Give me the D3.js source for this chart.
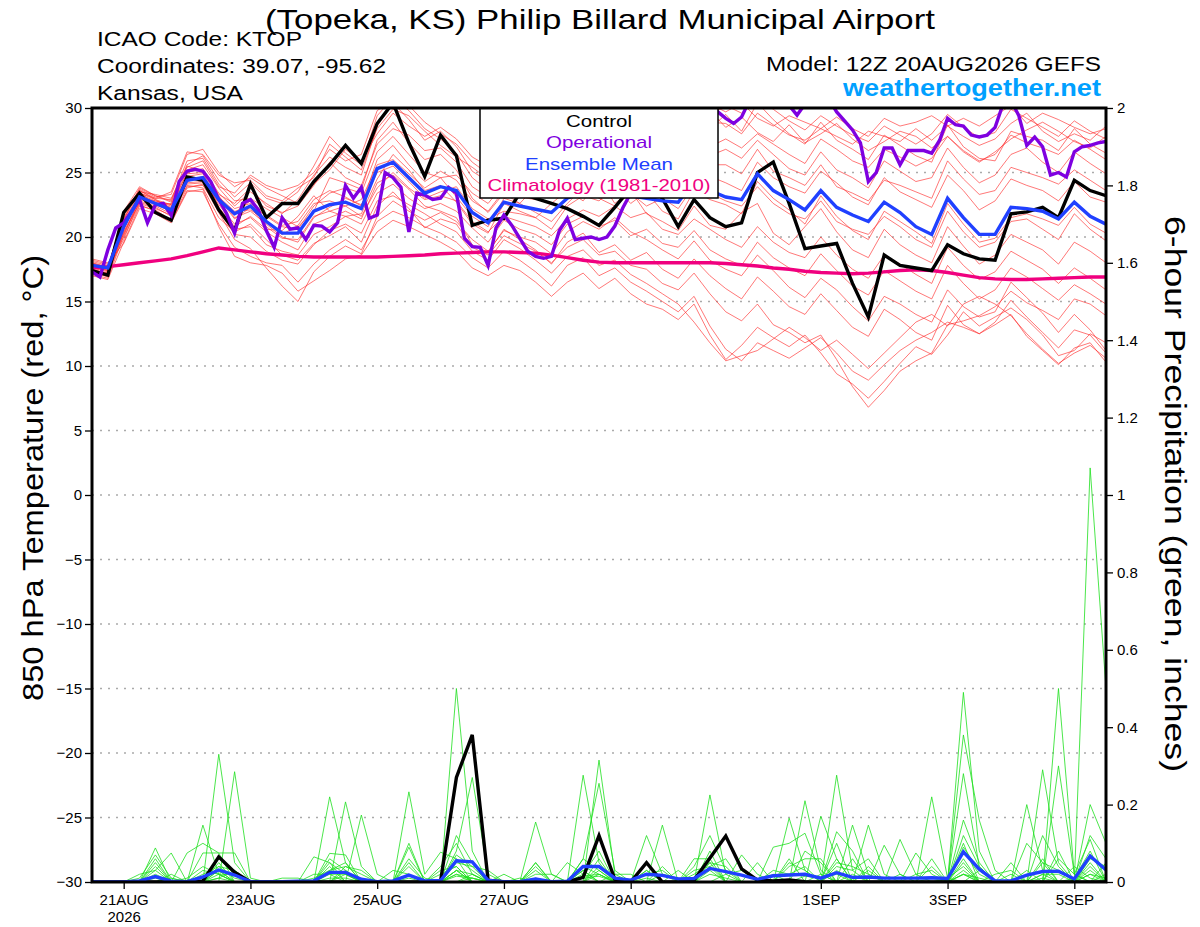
<!DOCTYPE html>
<html>
<head>
<meta charset="utf-8">
<script src="https://cdn.jsdelivr.net/npm/d3@7"></script>
<style>
  body { margin: 0; background: #fff; }
  svg text { font-family: "Liberation Sans", Arial, Helvetica, sans-serif; }
</style>
</head>
<body>
<script>
const titleText = "(Topeka, KS) Philip Billard Municipal Airport";
const infoLines = ["ICAO Code: KTOP", "Coordinates: 39.07, -95.62", "Kansas, USA"];
const modelText = "Model: 12Z 20AUG2026 GEFS";
const siteText = "weathertogether.net";
const legendNames = ["Control", "Operational", "Ensemble Mean", "Climatology (1981-2010)"];

const tempTicks = [-30, -25, -20, -15, -10, -5, 0, 5, 10, 15, 20, 25, 30];
const precipTicks = [0, 0.2, 0.4, 0.6, 0.8, 1, 1.2, 1.4, 1.6, 1.8, 2];
const dayTicks = ["2026-08-21", "2026-08-23", "2026-08-25", "2026-08-27", "2026-08-29", "2026-09-01", "2026-09-03", "2026-09-05"];
const dayLabels = ["21AUG", "23AUG", "25AUG", "27AUG", "29AUG", "1SEP", "3SEP", "5SEP"];
const yearLabel = "2026";

// 6-hourly series, 12Z 20AUG .. 12Z 05SEP (65 values)
const controlTemp = [17.4,17.05,21.9,23.4,21.9,21.3,24.65,24.4,22.1,20.5,
  24.1,21.5,22.6,22.6,24.3,25.6,27.1,25.7,28.8,30.4,
  27.3,24.7,27.9,26.3,20.9,21.3,21.45,23.4,23.0,22.6,
  22.2,21.6,20.9,22.3,23.8,24.2,23.0,20.8,22.9,21.5,
  20.8,21.1,25.0,25.8,22.6,19.1,19.3,19.5,16.4,13.8,
  18.6,17.8,17.6,17.4,19.4,18.7,18.3,18.2,21.8,21.95,
  22.3,21.5,24.4,23.6,23.2];
const meanTemp = [17.8,17.6,20.8,23.1,22.6,22.1,24.4,24.6,22.9,21.8,
  22.4,21.2,20.3,20.3,22.0,22.5,22.7,22.2,25.3,25.8,
  24.6,23.4,23.9,23.6,21.9,21.1,22.7,22.4,22.15,21.9,
  23.0,23.5,23.4,23.6,23.2,23.0,22.8,22.7,24.3,23.6,
  23.1,22.9,24.9,23.6,22.9,22.1,23.6,22.3,21.7,21.2,
  22.7,21.9,20.8,20.2,23.0,21.5,20.2,20.2,22.3,22.2,
  22.0,21.4,22.7,21.6,21.0];
const climTemp = [17.6,17.7,17.85,18.0,18.15,18.3,18.55,18.85,19.15,19.0,
  18.85,18.7,18.6,18.5,18.45,18.45,18.45,18.45,18.45,18.5,
  18.55,18.6,18.7,18.75,18.8,18.85,18.85,18.8,18.75,18.6,
  18.4,18.2,18.05,18.0,18.0,18.0,18.0,18.0,18.0,18.0,
  17.95,17.85,17.75,17.6,17.5,17.35,17.25,17.2,17.15,17.2,
  17.3,17.4,17.45,17.4,17.25,17.05,16.85,16.75,16.7,16.7,
  16.75,16.8,16.85,16.9,16.9];
const controlPrecip = [0,0,0,0,0,0,0,0.003,0.065,0.025,
  0,0,0,0,0,0,0,0,0,0,
  0,0,0.002,0.27,0.38,0.005,0,0,0,0,
  0,0.012,0.12,0.007,0,0.05,0,0,0.005,0.062,
  0.119,0.034,0.005,0.003,0.005,0.001,0,0,0,0,
  0,0,0,0,0,0,0,0,0,0,
  0,0,0,0,0];
const meanPrecip = [0,0,0,0.003,0.014,0.002,0.001,0.013,0.031,0.018,
  0.001,0.001,0.001,0.002,0.003,0.025,0.025,0.007,0.001,0.003,
  0.018,0.003,0.004,0.055,0.052,0.004,0.001,0.001,0.008,0.001,
  0.002,0.04,0.04,0.01,0.005,0.02,0.017,0.008,0.009,0.035,
  0.027,0.018,0.007,0.016,0.018,0.02,0.01,0.024,0.012,0.013,
  0.01,0.01,0.01,0.011,0.009,0.078,0.033,0.003,0.003,0.018,
  0.027,0.028,0.008,0.067,0.031];

// operational GFS, 3-hourly (129 values)
const operTemp = [17.3,16.9,19.0,20.7,21.1,22.0,22.9,21.1,22.5,22.6,
  21.7,24.3,25.1,25.25,25.1,24.3,22.9,21.8,20.3,22.6,
  22.9,22.1,20.5,19.2,21.5,20.6,20.7,19.8,20.9,20.85,
  20.4,21.1,24.0,23.0,23.85,21.45,21.7,25.0,24.6,23.85,
  20.4,23.4,23.25,22.9,23.0,23.85,23.4,19.9,19.25,19.2,
  17.8,20.7,21.7,20.9,19.9,18.9,18.5,18.35,18.5,20.5,
  21.45,19.8,19.9,20.0,19.8,20.0,20.85,22.25,23.4,24.2,
  24.8,25.4,26.0,26.6,27.2,27.8,28.4,28.9,29.4,29.7,
  29.2,28.8,29.3,30.6,31.2,31.0,31.4,30.8,30.2,29.45,
  30.3,30.9,31.2,30.7,29.7,29.0,28.3,27.3,24.3,25.0,
  26.9,26.9,25.6,26.7,26.7,26.7,26.5,27.5,29.2,28.7,
  28.6,27.9,27.75,27.9,28.5,30.3,30.6,29.4,27.1,27.75,
  27.0,24.8,25.0,24.65,26.6,27.0,27.1,27.3,27.4];

// ensemble members, 850 hPa temperature (6-hourly)
const memberTemps = [
  [17.5,17.2,21.5,23.6,22.9,22.5,25.2,25.6,23.8,22.4,23.5,22.6,21.8,22.9,24.8,26.2,25.4,24.8,28.6,30.4,29.1,27.5,28.2,27.0,25.1,24.3,25.6,25.0,26.3,25.4,27.2,28.1,27.4,28.5,27.9,28.8,27.6,28.3,29.6,28.4,29.5,28.2,30.4,29.1,28.0,27.2,28.9,27.5,26.8,26.0,27.9,27.1,26.3,25.8,28.7,27.0,26.1,25.9,28.2,27.8,27.5,26.7,28.4,27.2,26.5],
  [18.2,17.9,20.2,22.7,22.3,21.6,24.0,23.8,21.5,20.4,21.0,19.8,18.6,18.2,19.5,20.1,20.8,19.6,22.4,23.5,22.2,20.7,21.4,21.0,19.2,18.6,20.1,19.5,18.9,18.0,19.2,19.8,18.6,18.9,17.8,17.5,16.4,15.9,17.2,15.6,14.2,13.5,14.8,13.2,12.6,11.8,12.4,10.5,8.4,6.8,8.1,9.6,10.4,11.0,13.2,13.5,13.9,14.6,15.8,14.9,14.3,13.6,15.2,14.8,13.9],
  [17.0,16.7,19.6,22.4,22.1,21.3,23.8,24.1,21.9,19.8,19.1,17.6,16.2,15.0,17.3,18.5,19.3,18.7,21.6,22.8,22.0,21.3,21.9,21.2,19.8,18.9,20.5,20.0,19.6,18.7,20.4,21.2,20.6,21.5,20.4,19.8,19.0,18.3,19.7,18.2,17.5,17.0,18.6,17.4,16.1,15.3,16.8,15.9,14.6,13.5,15.4,14.8,14.0,13.4,15.9,14.6,13.8,14.2,16.5,15.3,14.1,12.6,14.0,12.8,11.2],
  [17.6,17.4,22.0,23.9,23.2,22.8,25.6,26.3,24.4,23.1,24.2,23.0,22.6,23.5,25.5,27.8,26.5,25.6,29.4,30.8,29.8,28.4,27.6,26.5,24.6,23.6,25.2,24.4,25.8,26.9,28.0,29.1,28.3,29.4,28.6,29.2,28.4,29.0,30.3,29.5,30.2,29.6,30.8,29.9,29.0,28.3,29.4,28.6,27.9,27.4,28.6,27.9,27.2,28.0,29.5,28.5,27.7,28.1,29.9,29.2,28.5,27.8,29.0,28.2,27.6],
  [17.9,17.7,20.9,23.0,22.5,22.0,24.7,24.9,23.2,21.5,22.0,21.0,20.0,19.6,21.5,22.3,23.0,22.5,25.0,25.5,24.3,23.0,23.5,23.9,22.2,21.4,22.0,21.8,21.5,20.6,22.4,23.2,22.8,23.9,22.6,23.5,22.0,21.4,23.6,22.9,22.5,21.8,24.3,23.0,22.1,21.0,23.2,21.6,20.5,19.8,22.0,21.2,20.4,19.5,22.6,21.0,19.6,19.9,21.5,21.8,21.4,20.9,22.3,21.0,20.3],
  [17.4,17.0,20.5,23.3,22.8,22.4,24.1,24.2,22.7,21.9,22.8,21.7,20.9,21.2,22.9,23.6,23.1,22.4,26.0,27.1,25.6,24.3,25.1,24.4,22.8,22.0,23.6,23.1,22.9,23.5,24.6,25.3,24.1,24.8,24.0,24.6,23.8,24.5,25.9,24.7,24.2,23.6,25.8,24.6,23.9,23.4,25.1,24.2,23.1,22.5,24.6,23.5,22.9,22.3,24.8,23.6,22.1,22.8,24.5,24.0,23.6,22.8,24.3,23.1,22.7],
  [18.1,17.8,20.0,22.5,22.0,21.2,23.6,23.5,21.0,19.2,18.5,18.0,17.8,16.5,17.9,19.0,19.8,19.0,21.2,22.0,21.5,20.8,20.3,19.6,18.4,17.6,18.9,18.2,17.3,16.2,17.8,18.4,17.0,17.6,16.5,15.8,15.0,14.2,15.4,13.1,11.3,10.4,11.8,11.2,10.6,11.4,12.2,11.0,9.6,8.9,10.1,11.2,12.0,12.6,13.4,13.0,12.5,13.2,14.0,12.3,11.2,10.1,11.4,11.8,10.3],
  [17.3,16.9,21.2,23.4,23.0,22.9,25.9,26.1,24.1,22.8,23.0,22.2,21.5,20.8,22.0,24.6,24.2,23.7,27.5,28.9,27.3,26.0,26.4,25.2,23.0,21.9,23.4,22.6,23.9,24.6,25.8,26.5,25.9,27.0,26.2,26.8,25.5,25.9,27.4,26.3,26.8,26.1,27.5,26.4,25.3,24.8,26.6,25.2,24.6,23.8,25.9,25.1,24.3,24.6,26.9,25.4,24.2,24.8,26.4,26.9,25.8,25.0,26.6,25.7,24.9],
  [17.7,17.5,19.8,22.8,22.4,21.8,23.9,24.0,22.2,20.6,20.8,19.4,18.9,18.6,20.2,20.8,21.6,21.0,23.4,24.1,23.0,22.2,22.6,22.0,20.7,19.6,21.3,20.6,20.2,19.4,21.0,21.6,20.8,21.3,20.1,20.6,19.5,19.2,20.5,19.0,18.3,17.8,19.6,18.4,17.6,17.0,18.7,17.4,16.2,15.5,17.4,16.6,15.8,15.2,17.8,16.4,15.2,15.9,17.6,16.9,16.0,15.1,16.3,15.6,14.8],
  [18.0,17.6,21.8,23.7,23.1,23.3,26.4,26.8,25.0,23.9,24.6,23.8,23.2,22.6,24.1,25.2,26.8,25.9,28.0,29.6,28.6,27.8,28.5,27.6,26.2,25.5,24.8,26.1,27.0,27.6,26.5,27.2,28.6,27.8,28.9,27.6,28.2,27.1,28.6,29.8,28.5,29.3,28.1,27.4,28.7,27.3,28.0,28.8,27.6,26.7,27.4,28.2,27.8,26.9,27.8,26.6,25.8,26.6,27.6,28.3,28.9,28.2,27.4,26.9,27.8],
  [17.2,17.0,20.3,22.9,22.6,22.0,24.5,24.6,22.5,21.0,21.5,20.4,19.6,19.0,21.0,21.5,22.0,21.4,24.2,24.8,23.7,22.4,22.0,21.5,19.4,18.8,20.6,19.8,19.0,17.9,19.6,20.3,18.8,19.4,18.2,18.8,17.5,16.8,18.3,17.0,16.0,15.2,16.9,15.8,14.6,14.0,15.6,14.3,13.0,12.3,14.4,13.6,12.6,12.0,14.7,13.2,12.5,13.4,15.1,13.8,12.6,11.4,12.8,12.4,11.0],
  [17.6,17.3,21.0,23.2,22.7,22.3,25.0,25.3,23.4,22.2,22.6,21.6,20.8,20.6,22.4,23.4,23.8,23.4,26.6,27.8,26.4,25.0,24.6,24.8,23.4,22.6,24.1,23.9,24.6,23.2,25.0,24.4,25.6,26.0,25.1,25.8,24.9,26.0,26.8,25.6,25.6,24.9,26.8,25.1,24.6,24.0,25.6,23.9,23.4,22.8,24.4,24.0,23.5,23.0,25.9,24.5,23.3,23.6,25.4,25.0,24.6,24.1,25.2,24.4,23.6],
  [17.8,17.4,20.6,23.5,22.5,22.6,24.9,25.0,22.3,20.8,21.6,20.6,20.5,21.6,23.2,22.0,21.6,21.8,24.5,26.4,25.2,23.6,24.0,22.7,21.0,20.3,22.6,22.0,21.5,22.6,23.6,22.8,24.5,22.6,23.6,21.8,21.2,20.5,22.4,20.9,20.6,21.9,22.6,20.3,19.4,20.8,22.2,20.4,19.0,18.4,20.6,19.4,18.6,18.0,20.8,19.3,17.9,18.6,20.2,19.6,19.0,17.9,19.6,18.9,18.0],
  [17.5,17.1,21.4,23.5,23.3,23.0,25.4,25.9,23.9,23.4,24.8,24.0,23.6,24.0,25.0,26.8,25.9,26.4,29.8,30.6,30.2,28.9,28.0,27.2,25.8,24.9,26.4,25.7,27.2,28.3,27.4,28.7,29.5,28.3,29.6,28.1,29.0,29.6,28.8,30.3,29.7,30.4,29.2,28.6,29.4,28.9,28.4,29.3,28.4,27.8,29.2,28.6,28.9,29.4,28.6,29.2,28.6,29.4,30.2,28.8,29.6,29.1,28.5,28.0,28.4],
  [18.3,18.0,19.5,22.2,21.8,21.1,23.5,23.7,20.8,18.5,18.0,17.8,17.2,15.8,16.6,17.4,18.3,18.6,20.4,21.3,20.8,20.2,19.6,18.9,17.6,17.0,17.8,17.4,16.5,15.4,16.5,17.2,16.0,16.8,15.6,14.8,14.4,13.6,14.8,12.4,10.5,11.6,13.0,12.2,11.5,12.4,11.0,9.4,8.6,7.5,8.8,10.2,11.5,10.9,12.4,14.2,13.1,13.8,14.5,13.6,12.4,10.8,11.2,12.5,11.8],
  [17.1,16.8,20.1,23.0,22.8,22.5,24.6,24.4,23.1,22.0,22.1,21.3,20.2,20.9,22.6,22.8,22.4,22.9,25.6,26.0,24.9,23.8,24.6,23.1,21.6,20.8,23.0,22.6,21.9,21.2,22.6,23.8,23.0,22.4,23.4,22.4,23.0,22.2,24.0,23.4,22.8,22.4,23.9,22.6,21.8,21.4,22.8,21.2,20.6,20.2,21.6,20.8,19.8,19.2,22.0,20.4,19.2,19.6,21.2,21.4,20.6,19.8,21.8,20.6,19.7],
  [17.9,17.6,21.3,23.8,23.2,22.7,25.5,25.1,23.3,22.6,23.8,22.4,21.9,22.4,24.0,25.8,24.6,24.0,27.2,28.4,27.9,26.7,26.9,25.8,23.9,23.1,24.9,24.1,25.4,24.8,26.0,27.0,26.4,25.6,27.0,26.4,27.2,26.8,27.9,27.0,27.6,26.9,28.0,27.2,26.4,25.7,27.6,26.8,25.9,25.4,26.8,26.2,25.5,26.1,27.8,26.7,25.9,26.4,27.9,27.3,26.9,26.4,27.5,26.8,26.0],
  [17.4,17.2,20.4,22.6,22.2,21.7,24.2,24.3,22.0,20.2,20.0,18.9,18.2,17.9,19.4,20.5,21.0,20.3,22.8,23.2,22.5,21.8,21.0,20.4,18.9,18.2,19.8,19.1,18.2,17.2,18.5,19.0,17.8,18.2,17.1,16.4,15.6,14.8,13.4,11.8,10.4,10.8,11.2,12.1,13.0,12.2,11.2,12.0,10.9,9.8,11.0,12.2,13.4,14.0,13.1,14.8,15.4,14.8,13.9,12.5,11.3,10.2,11.0,11.6,10.6],
  [17.7,17.4,20.7,23.4,22.9,22.2,24.3,24.7,23.0,21.4,22.3,20.8,19.9,19.8,21.6,22.0,22.4,21.6,23.8,25.0,23.8,22.9,23.2,22.8,21.2,20.4,21.6,21.2,20.8,20.1,21.4,22.1,21.6,22.4,21.5,21.9,20.6,20.2,21.4,20.6,19.8,19.2,20.8,19.6,18.8,18.4,20.0,18.6,17.5,16.8,18.6,17.9,17.1,16.4,19.2,17.8,16.7,17.3,18.9,18.2,17.5,16.4,17.6,16.8,15.9],
  [18.0,17.7,21.7,23.6,23.0,23.5,26.6,26.4,24.8,24.2,24.4,23.2,22.8,23.8,24.6,27.2,26.2,25.2,28.4,29.9,29.4,28.2,27.1,26.2,25.4,24.5,25.8,26.5,26.0,26.8,28.4,27.6,27.1,29.2,27.6,28.2,28.8,27.8,29.2,28.9,28.8,28.0,29.6,28.7,27.9,27.5,28.4,27.8,27.2,28.2,27.8,27.4,28.4,27.5,28.6,27.8,27.1,27.6,28.8,29.6,28.2,27.4,28.0,27.5,28.6]
];

// ensemble members, 6-hour precipitation (inches)
const memberPrecips = [
  [0,0,0,0,0.088,0,0,0,0.33,0.05,0,0,0,0,0,0.22,0.05,0,0,0,0,0,0,0.5,0.08,0,0,0,0.05,0,0,0.276,0.05,0,0,0,0,0,0,0.225,0.02,0,0,0,0,0,0,0.276,0.03,0,0,0,0,0,0,0.49,0.08,0,0,0,0,0.5,0.02,0.11,0],
  [0,0,0,0.01,0.07,0.01,0,0,0,0.285,0.01,0,0,0,0,0,0.207,0.04,0,0,0.1,0,0,0.08,0.27,0.02,0,0,0,0,0,0,0.315,0.02,0,0,0.147,0,0,0,0,0,0,0,0,0.21,0.03,0,0,0,0,0,0,0,0,0.38,0.16,0.03,0,0,0,0,0,1.07,0.5],
  [0,0,0,0,0.06,0,0,0.147,0.02,0,0,0,0,0,0,0,0,0.173,0.02,0,0.233,0.02,0.077,0.06,0,0,0,0,0.155,0.02,0,0,0,0,0,0.12,0.02,0,0,0,0,0,0,0,0.165,0.03,0,0,0,0,0,0,0,0.22,0.01,0,0,0,0,0,0.29,0.05,0,0.2,0.1],
  [0,0,0,0,0.05,0,0.075,0.1,0.075,0,0,0,0,0,0,0.074,0.07,0,0,0,0.09,0,0,0.12,0.05,0,0,0,0,0,0,0.06,0.255,0.03,0,0,0,0,0,0.08,0,0,0,0,0,0,0.17,0.06,0,0,0,0,0,0,0,0.28,0.04,0,0,0.1,0.05,0,0,0.04,0],
  [0,0,0,0,0.03,0.075,0,0,0.03,0,0,0,0,0,0.065,0.05,0,0,0,0.03,0.02,0,0,0.06,0.03,0,0,0,0.05,0,0,0.03,0,0,0,0,0,0,0.06,0.06,0,0,0,0,0,0,0,0.13,0.08,0,0,0.11,0.02,0,0,0.1,0,0,0,0.2,0.03,0,0.04,0.01,0],
  [0,0,0,0,0,0,0,0.075,0.075,0.075,0,0,0,0,0,0,0.04,0.03,0,0,0,0,0.04,0.1,0.02,0,0,0,0,0,0,0.02,0.08,0,0,0,0.04,0,0,0,0,0.07,0.02,0,0,0,0,0,0.147,0.02,0,0,0,0,0,0.08,0.02,0,0.05,0,0,0.3,0.02,0,0],
  [0,0,0,0,0.02,0,0,0,0.05,0,0,0,0,0,0,0.04,0,0,0,0,0.02,0,0,0.05,0.04,0.03,0,0,0,0,0,0,0.04,0,0,0.03,0,0.03,0,0,0,0,0,0.09,0.1,0.126,0.02,0,0,0.147,0.02,0,0,0.04,0,0.06,0,0,0,0,0.05,0.03,0,0,0.05],
  [0,0,0,0,0,0,0.01,0.04,0.02,0.02,0,0,0,0,0,0,0.03,0,0,0,0,0,0.02,0.04,0,0,0,0,0.02,0.02,0,0,0,0.02,0.02,0,0,0,0.03,0.04,0.06,0,0.05,0,0,0,0,0.06,0,0,0.095,0.02,0,0,0,0,0,0.02,0.03,0,0,0,0.01,0.08,0],
  [0,0,0,0,0.04,0,0,0,0.03,0,0,0,0,0,0,0.03,0.04,0.02,0,0,0,0,0,0,0.02,0,0,0,0,0,0.05,0.02,0,0,0,0,0,0,0,0.05,0.04,0,0,0,0.04,0.06,0.06,0,0,0,0,0,0.075,0.02,0,0,0.03,0,0,0,0.12,0.04,0,0,0.02],
  [0,0,0,0,0,0,0,0,0.01,0.03,0,0,0,0,0.02,0.02,0,0,0,0,0.05,0,0,0.03,0.02,0,0,0,0,0,0,0.04,0.02,0,0,0.02,0.03,0,0,0,0.02,0.03,0,0,0,0,0,0.04,0.03,0.06,0,0,0,0,0,0.05,0,0,0,0.03,0,0,0,0.03,0],
  [0,0,0,0,0,0.02,0,0.03,0.02,0,0,0,0,0,0,0,0.02,0,0,0,0,0,0,0.02,0,0,0,0,0.01,0,0,0,0.03,0,0,0,0,0,0,0.03,0,0,0,0.03,0.02,0.04,0,0,0.02,0,0,0,0,0.01,0,0.02,0.01,0,0,0,0,0.06,0.02,0,0],
  [0,0,0,0,0.01,0,0,0,0.01,0,0,0,0,0,0,0.01,0.01,0,0,0,0,0,0,0.015,0.01,0,0,0,0,0,0,0.01,0.015,0,0,0,0,0,0,0.02,0.01,0,0,0,0,0.015,0.01,0.02,0,0,0,0,0,0,0,0.02,0,0,0,0,0.01,0,0,0.02,0.01],
  [0,0,0,0,0,0,0,0.02,0.04,0.01,0,0,0,0,0,0.06,0.03,0,0,0,0.04,0,0,0.07,0.04,0,0,0,0,0,0,0.015,0.02,0,0,0,0,0,0.02,0.05,0,0,0,0,0.05,0.03,0,0,0,0.03,0,0,0,0,0,0.09,0.03,0,0,0,0,0,0,0.06,0.04],
  [0,0,0,0,0,0,0,0,0,0,0,0,0.01,0.01,0,0,0,0,0,0,0,0,0,0.02,0.01,0,0,0,0,0,0,0,0,0,0,0.01,0,0,0,0,0,0,0,0,0,0,0.02,0,0,0,0,0.02,0,0,0.01,0.04,0,0,0,0,0.02,0.02,0,0,0],
  [0,0,0,0.02,0.03,0,0,0,0.04,0.03,0,0,0,0,0,0.02,0.02,0,0,0,0,0,0.03,0.04,0,0,0,0,0.03,0,0,0,0.02,0,0,0,0,0,0,0.04,0,0,0,0,0,0,0,0.05,0.04,0.02,0,0,0,0,0,0.03,0,0,0,0,0.02,0,0,0.05,0],
  [0,0,0,0,0,0,0,0,0,0,0,0,0,0,0.01,0.03,0.05,0,0,0,0.01,0,0,0,0.01,0,0,0.01,0,0,0,0.03,0,0,0,0,0.02,0.01,0,0,0,0,0,0.02,0,0,0,0.03,0,0,0,0,0.02,0.03,0,0.02,0,0,0.02,0,0,0,0,0,0],
  [0,0,0,0,0,0.01,0,0,0.06,0.02,0,0,0,0,0,0,0,0,0,0,0.06,0.01,0,0.03,0,0,0.02,0,0,0,0,0.06,0.03,0,0,0,0,0,0.04,0.12,0.03,0,0,0,0,0.08,0.05,0,0.06,0,0,0,0,0,0,0.16,0.05,0,0,0,0.06,0,0,0.12,0.06],
  [0,0,0,0,0,0,0,0,0.02,0,0,0,0,0,0,0.05,0.02,0,0,0,0,0,0,0.03,0,0,0,0,0.04,0,0,0,0.06,0,0,0.03,0,0,0,0,0,0,0,0,0.06,0,0,0.1,0,0.04,0,0,0,0.06,0,0.12,0.04,0,0,0,0,0.08,0,0.02,0]
];

// ---- layout ----
const margin = {top: 108, left: 92, right: 94, bottom: 45};
const width = 1200 - margin.left - margin.right;   // 1014
const height = 927 - margin.top - margin.bottom;   // 774

const svg = d3.select('body').append('svg')
  .attr('width', 1200)
  .attr('height', 927);

const g = svg.append('g')
  .attr('transform', `translate(${margin.left},${margin.top})`);

// scales
const runStart = new Date(Date.UTC(2026, 7, 20, 12));
const runEnd = new Date(Date.UTC(2026, 8, 5, 12));
const xscale = d3.scaleUtc().domain([runStart, runEnd]).range([0, width]);
const ytemp = d3.scaleLinear().domain([-30, 30]).range([height, 0]);
const yprecip = d3.scaleLinear().domain([0, 2]).range([height, 0]);
const parseDay = d3.utcParse('%Y-%m-%d');

const x6 = (d, i) => xscale(d3.utcHour.offset(runStart, 6 * i));
const x3 = (d, i) => xscale(d3.utcHour.offset(runStart, 3 * i));
const tempLine = d3.line().x(x6).y((d) => ytemp(d));
const operLine = d3.line().x(x3).y((d) => ytemp(d));
const precipLine = d3.line().x(x6).y((d) => yprecip(d));

// dotted grid
g.append('g').selectAll('line')
  .data(tempTicks.filter((t) => t > -30 && t < 30))
  .join('line')
  .attr('x1', 0).attr('x2', width)
  .attr('y1', (d) => ytemp(d)).attr('y2', (d) => ytemp(d))
  .attr('stroke', '#aaa')
  .attr('stroke-width', 1.3)
  .attr('stroke-dasharray', '2,6');

// axes
const axisFont = (sel) => sel.attr('font-family', '"Liberation Sans", Arial, sans-serif').attr('font-size', 15);

const g_yaxis = g.append('g').call(
  d3.axisLeft(ytemp).tickValues(tempTicks).tickSize(7).tickPadding(3).tickFormat(d3.format('d')));
g_yaxis.call(axisFont);
g_yaxis.select('.domain').remove();

const g_paxis = g.append('g')
  .attr('transform', `translate(${width},0)`)
  .call(d3.axisRight(yprecip).tickValues(precipTicks).tickSize(7).tickPadding(4).tickFormat(d3.format('~g')));
g_paxis.call(axisFont);
g_paxis.select('.domain').remove();

const g_xaxis = g.append('g')
  .attr('transform', `translate(0,${height})`)
  .call(d3.axisBottom(xscale).tickValues(dayTicks.map(parseDay)).tickSize(7).tickPadding(5)
    .tickFormat((d, i) => dayLabels[i]));
g_xaxis.call(axisFont);
g_xaxis.select('.domain').remove();
d3.select(g_xaxis.selectAll('.tick').nodes()[0]).append('text')
  .attr('fill', 'currentColor')
  .attr('y', 29)
  .attr('dy', '0.71em')
  .text(yearLabel);
svg.selectAll('.tick line').attr('stroke-width', 1.3);

// plot lines, clipped to the frame
svg.append('clipPath').attr('id', 'plotclip')
  .append('rect').attr('width', width).attr('height', height);
const plot = g.append('g').attr('clip-path', 'url(#plotclip)');

plot.append('g').selectAll('path')
  .data(memberTemps)
  .join('path')
  .attr('d', tempLine)
  .attr('fill', 'none')
  .attr('stroke', '#ff2a2a')
  .attr('stroke-opacity', 0.8)
  .attr('stroke-width', 0.8);

plot.append('g').selectAll('path')
  .data(memberPrecips)
  .join('path')
  .attr('d', precipLine)
  .attr('fill', 'none')
  .attr('stroke', '#1ee01e')
  .attr('stroke-width', 0.8);

const thick = [
  {values: climTemp, line: tempLine, color: '#f0007f'},
  {values: controlTemp, line: tempLine, color: '#000000'},
  {values: controlPrecip, line: precipLine, color: '#000000'},
  {values: operTemp, line: operLine, color: '#7f00e0'},
  {values: meanTemp, line: tempLine, color: '#2040ff'},
  {values: meanPrecip, line: precipLine, color: '#2040ff'}
];
plot.append('g').selectAll('path')
  .data(thick)
  .join('path')
  .attr('d', (d) => d.line(d.values))
  .attr('fill', 'none')
  .attr('stroke', (d) => d.color)
  .attr('stroke-width', 3.4)
  .attr('stroke-linejoin', 'miter');

// legend box
const legendColors = ['#000000', '#7f00e0', '#2040ff', '#f0007f'];
const legendWidths = [66, 106, 148, 223];
const lg = g.append('g').attr('transform', `translate(${480 - margin.left},0)`);
lg.append('rect')
  .attr('width', 238).attr('height', 90)
  .attr('fill', '#fff').attr('stroke', '#000').attr('stroke-width', 1.5);
lg.selectAll('text')
  .data(legendNames)
  .join('text')
  .attr('x', 119)
  .attr('y', (d, i) => 19 + i * 21.3)
  .attr('text-anchor', 'middle')
  .attr('font-size', 17)
  .attr('textLength', (d, i) => legendWidths[i])
  .attr('lengthAdjust', 'spacingAndGlyphs')
  .attr('fill', (d, i) => legendColors[i])
  .text((d) => d);

// frame
g.append('rect')
  .attr('width', width).attr('height', height)
  .attr('fill', 'none').attr('stroke', '#000').attr('stroke-width', 3);

// titles and labels
svg.append('text')
  .attr('x', 600).attr('y', 29)
  .attr('text-anchor', 'middle')
  .attr('font-size', 28)
  .attr('textLength', 670).attr('lengthAdjust', 'spacingAndGlyphs')
  .text(titleText);

const infoWidths = [205, 289, 146];
svg.append('g').selectAll('text')
  .data(infoLines)
  .join('text')
  .attr('x', 97)
  .attr('y', (d, i) => 46 + i * 27)
  .attr('font-size', 20)
  .attr('textLength', (d, i) => infoWidths[i]).attr('lengthAdjust', 'spacingAndGlyphs')
  .text((d) => d);

svg.append('text')
  .attr('x', 1101).attr('y', 71)
  .attr('text-anchor', 'end')
  .attr('font-size', 20)
  .attr('textLength', 335).attr('lengthAdjust', 'spacingAndGlyphs')
  .text(modelText);

svg.append('text')
  .attr('x', 1101).attr('y', 96)
  .attr('text-anchor', 'end')
  .attr('font-size', 23)
  .attr('font-weight', 'bold')
  .attr('fill', '#00a0ff')
  .attr('textLength', 258).attr('lengthAdjust', 'spacingAndGlyphs')
  .text(siteText);

svg.append('text')
  .attr('transform', 'translate(43,478) rotate(-90)')
  .attr('text-anchor', 'middle')
  .attr('font-size', 30)
  .attr('textLength', 446).attr('lengthAdjust', 'spacingAndGlyphs')
  .text('850 hPa Temperature (red, \u00B0C)');

svg.append('text')
  .attr('transform', 'translate(1165,494) rotate(90)')
  .attr('text-anchor', 'middle')
  .attr('font-size', 30)
  .attr('textLength', 556).attr('lengthAdjust', 'spacingAndGlyphs')
  .text('6-hour Precipitation (green, inches)');
</script>
</body>
</html>
